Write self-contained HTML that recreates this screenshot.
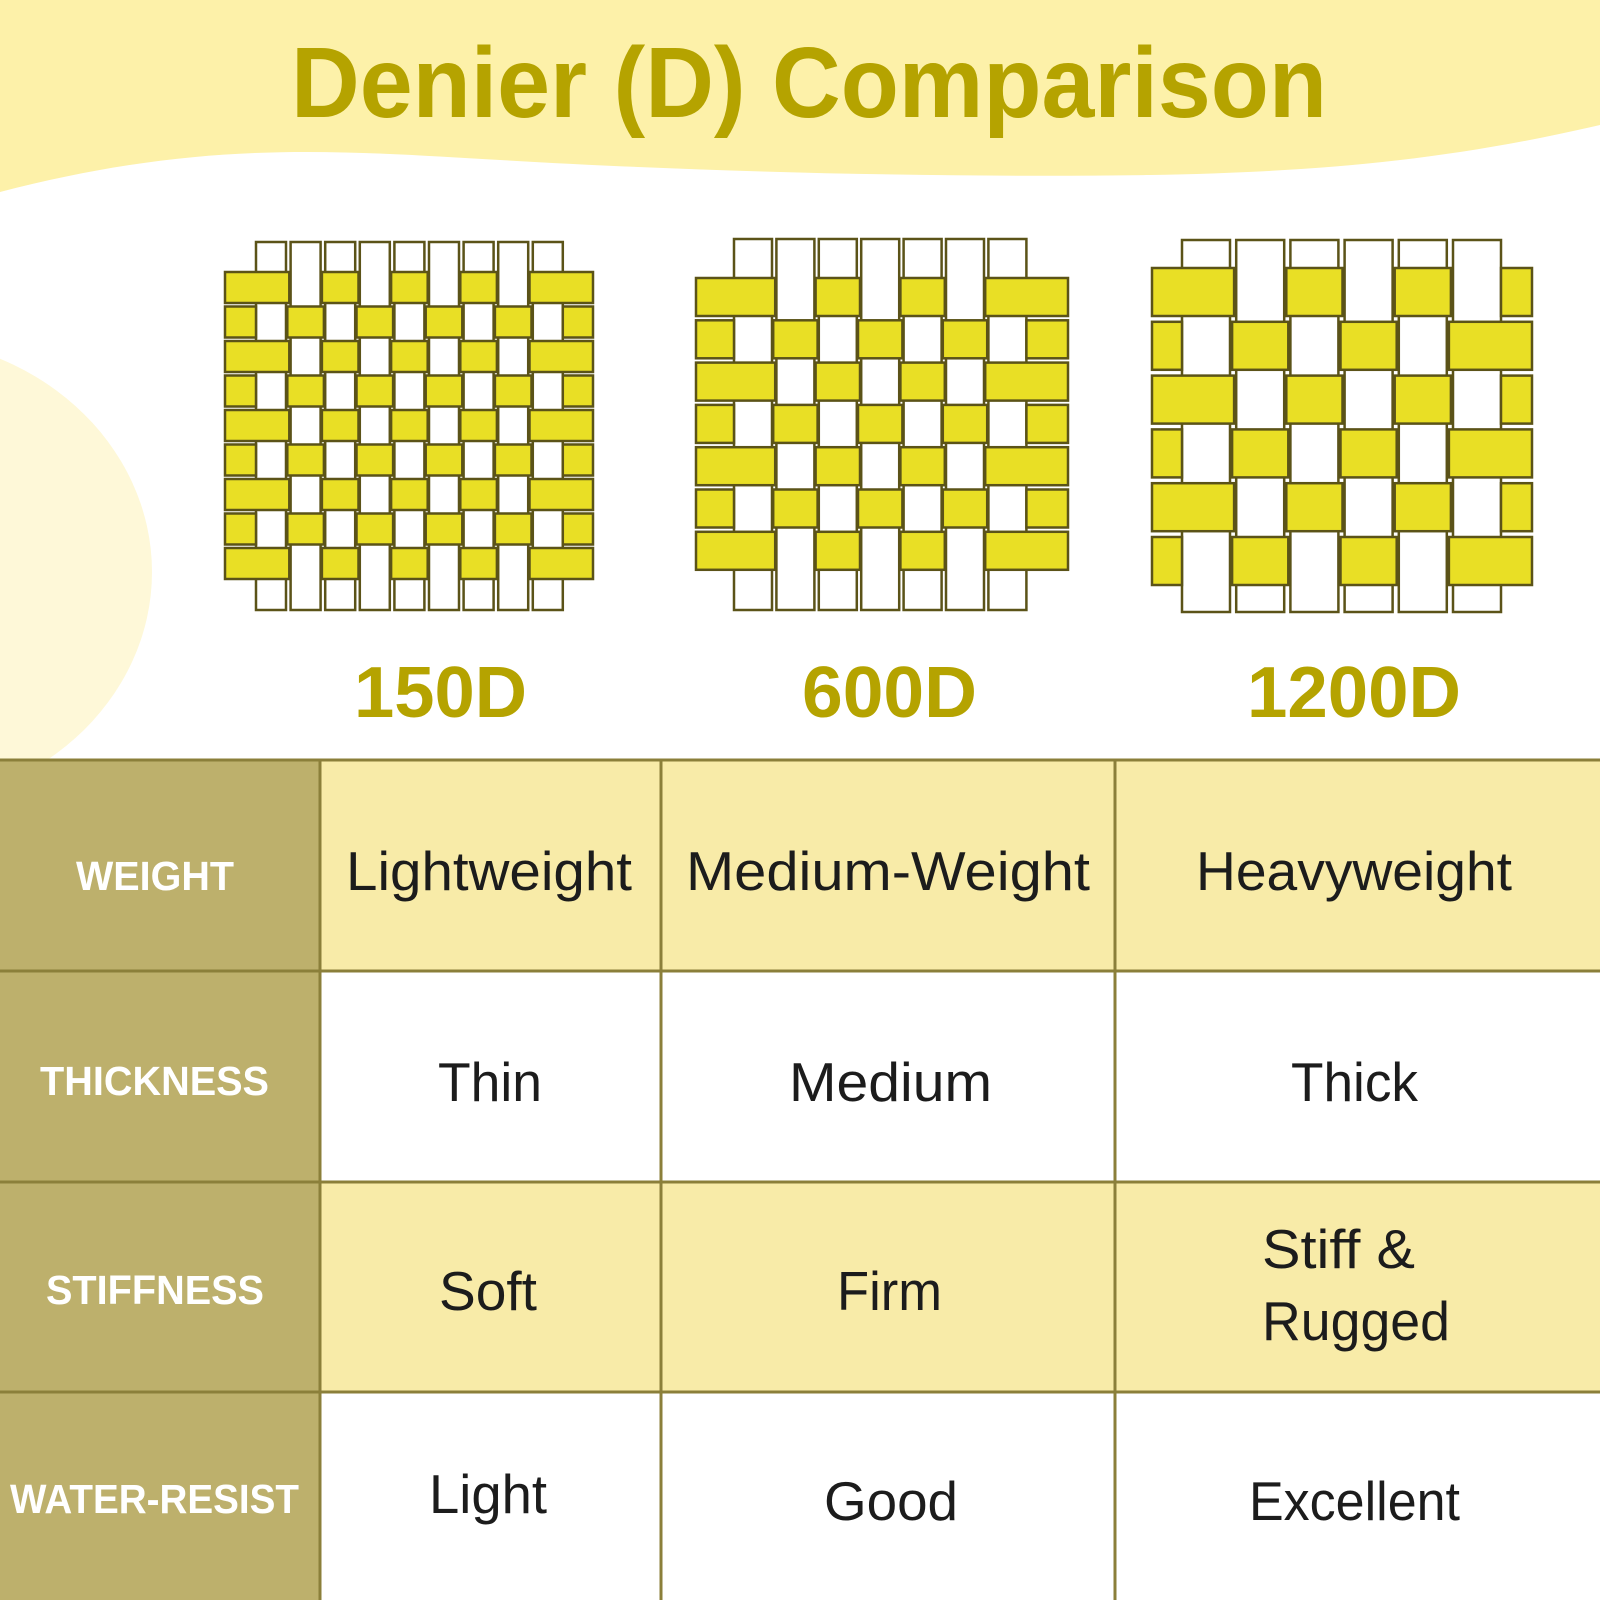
<!DOCTYPE html>
<html><head><meta charset="utf-8"><style>
html,body{margin:0;padding:0;background:#fff}
svg{display:block}
</style></head><body>
<svg id="s" width="1600" height="1600" viewBox="0 0 1600 1600" xmlns="http://www.w3.org/2000/svg">
<rect width="1600" height="1600" fill="#fff"/>
<path d="M0 0 H1600 V125 C1450 160 1320 172 1150 175 C950 178 700 172 500 160 C330 150 200 140 0 192 Z" fill="#fdf1a9"/>
<ellipse cx="-110" cy="572" rx="262" ry="235" fill="#fef8d8"/>
<text x="291" y="117" font-family="Liberation Sans, sans-serif" font-weight="bold" font-size="100" fill="#b5a300" textLength="1036" lengthAdjust="spacingAndGlyphs">Denier (D) Comparison</text>
<g id="weaves" stroke="#5b5318" stroke-width="2.5"></g>
<g font-family="Liberation Sans, sans-serif" font-weight="bold" font-size="72" fill="#b5a300">
<text x="354" y="717" textLength="173" lengthAdjust="spacingAndGlyphs">150D</text>
<text x="802" y="717" textLength="175" lengthAdjust="spacingAndGlyphs">600D</text>
<text x="1247" y="717" textLength="214" lengthAdjust="spacingAndGlyphs">1200D</text>
</g>
<!-- table -->
<rect x="0" y="760" width="320" height="840" fill="#bdb06c"/>
<rect x="320" y="760" width="1280" height="211" fill="#f8eba8"/>
<rect x="320" y="1182" width="1280" height="210" fill="#f8eba8"/>
<g stroke="#8b7f3a" stroke-width="3">
<line x1="0" y1="760" x2="1600" y2="760"/>
<line x1="0" y1="971" x2="1600" y2="971"/>
<line x1="0" y1="1182" x2="1600" y2="1182"/>
<line x1="0" y1="1392" x2="1600" y2="1392"/>
<line x1="320" y1="760" x2="320" y2="1600"/>
<line x1="661" y1="760" x2="661" y2="1600"/>
<line x1="1115" y1="760" x2="1115" y2="1600"/>
</g>
<g font-family="Liberation Sans, sans-serif" font-weight="bold" font-size="41" fill="#fff">
<text x="76" y="890" textLength="158" lengthAdjust="spacingAndGlyphs">WEIGHT</text>
<text x="40" y="1095" textLength="229" lengthAdjust="spacingAndGlyphs">THICKNESS</text>
<text x="46" y="1304" textLength="218" lengthAdjust="spacingAndGlyphs">STIFFNESS</text>
<text x="10" y="1513" textLength="289" lengthAdjust="spacingAndGlyphs">WATER-RESIST</text>
</g>
<g font-family="Liberation Sans, sans-serif" font-size="55" fill="#1c1c1c">
<text x="346" y="890" textLength="286" lengthAdjust="spacingAndGlyphs">Lightweight</text>
<text x="686" y="890" textLength="404" lengthAdjust="spacingAndGlyphs">Medium-Weight</text>
<text x="1196" y="890" textLength="316" lengthAdjust="spacingAndGlyphs">Heavyweight</text>
<text x="438" y="1101" textLength="104" lengthAdjust="spacingAndGlyphs">Thin</text>
<text x="789" y="1101" textLength="203" lengthAdjust="spacingAndGlyphs">Medium</text>
<text x="1291" y="1101" textLength="127" lengthAdjust="spacingAndGlyphs">Thick</text>
<text x="439" y="1310" textLength="98" lengthAdjust="spacingAndGlyphs">Soft</text>
<text x="837" y="1310" textLength="105" lengthAdjust="spacingAndGlyphs">Firm</text>
<text x="1262" y="1268" textLength="153" lengthAdjust="spacingAndGlyphs">Stiff &amp;</text>
<text x="1262" y="1340" textLength="188" lengthAdjust="spacingAndGlyphs">Rugged</text>
<text x="429" y="1513" textLength="118" lengthAdjust="spacingAndGlyphs">Light</text>
<text x="824" y="1520" textLength="134" lengthAdjust="spacingAndGlyphs">Good</text>
<text x="1249" y="1520" textLength="211" lengthAdjust="spacingAndGlyphs">Excellent</text>
</g>
</svg>
<script>
(function(){
var g=document.getElementById('weaves'),NS='http://www.w3.org/2000/svg',out='';
function r(x,y,w,h,f){out+='<rect x="'+x.toFixed(1)+'" y="'+y.toFixed(1)+'" width="'+w.toFixed(1)+'" height="'+h.toFixed(1)+'" fill="'+f+'"/>';}
var W=[
 {n:9,x0:256,p:34.6,w:30,y0:272,rp:34.5,h:31,xl:225,xr:593,t:242,b:610},
 {n:7,x0:734,p:42.4,w:38,y0:278,rp:42.3,h:38,xl:696,xr:1068,t:239,b:610},
 {n:6,x0:1182,p:54.2,w:48,y0:268,rp:53.8,h:48,xl:1152,xr:1532,t:240,b:612}
];
W.forEach(function(o){
 var i,j,e=(o.p-o.w)/2+1;
 for(i=0;i<o.n;i++) r(o.x0+i*o.p,o.t,o.w,o.b-o.t,'#fff');
 for(j=0;j<o.n;j++){
  var y=o.y0+j*o.rp;
  for(i=0;i<o.n;i++){
   if((i+j)%2) continue;
   var cx=o.x0+i*o.p, x1=cx-e, x2=cx+o.w+e;
   if(i==0) x1=o.xl;
   if(i==o.n-1) x2=o.xr;
   r(x1,y,x2-x1,o.h,'#e9df25');
  }
  if(j%2==1){ r(o.xl,y,o.x0-o.xl,o.h,'#e9df25'); }
  var lastYellow=((o.n-1+j)%2==0);
  if(!lastYellow){var lx=o.x0+(o.n-1)*o.p+o.w; r(lx,y,o.xr-lx,o.h,'#e9df25');}
  if(j%2==0 && false){}
 }
});
g.innerHTML=out;
})();
</script>
</body></html>
